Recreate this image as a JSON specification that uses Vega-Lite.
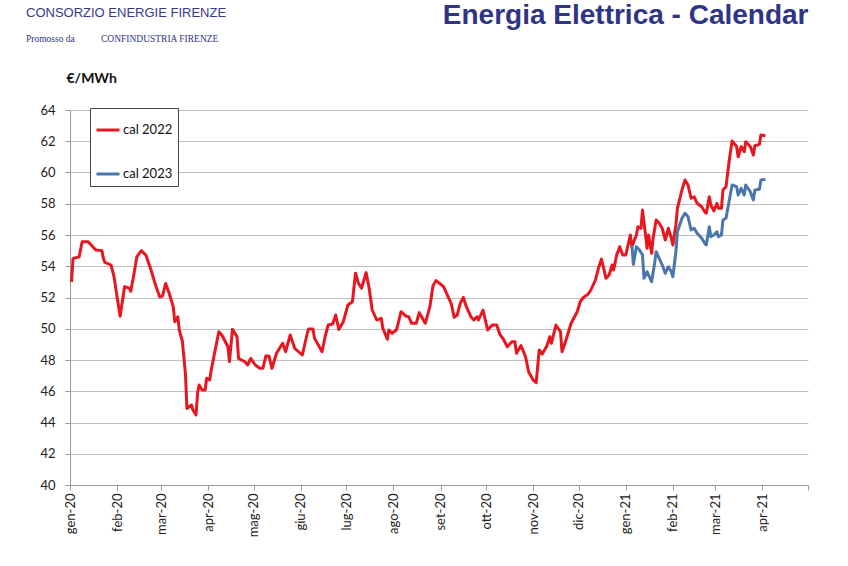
{
  "$schema": "https://vega.github.io/schema/vega-lite/v6.json",
  "width": 738,
  "height": 375,
  "autosize": {"type": "none"},
  "padding": {"left": 70, "top": 110, "right": 40, "bottom": 81},
  "background": "white",
  "title": {
    "text": "CONSORZIO ENERGIE FIRENZE",
    "subtitle": "Promosso da\u00a0\u00a0\u00a0\u00a0\u00a0\u00a0\u00a0\u00a0\u00a0\u00a0\u00a0CONFINDUSTRIA FIRENZE",
    "anchor": "start",
    "frame": "group",
    "orient": "top",
    "dx": -44,
    "dy": 42.5,
    "offset": 0,
    "font": "Liberation Sans",
    "fontSize": 13,
    "fontWeight": "normal",
    "color": "#343A8A",
    "subtitleFont": "Liberation Serif",
    "subtitleFontSize": 9.5,
    "subtitleColor": "#2E3486",
    "subtitlePadding": 14
  },
  "data": {
    "values": [
      {"date": "2020-01-02", "serie": "cal 2022", "value": 53.0},
      {"date": "2020-01-03", "serie": "cal 2022", "value": 54.5},
      {"date": "2020-01-07", "serie": "cal 2022", "value": 54.6},
      {"date": "2020-01-09", "serie": "cal 2022", "value": 55.57},
      {"date": "2020-01-13", "serie": "cal 2022", "value": 55.57},
      {"date": "2020-01-16", "serie": "cal 2022", "value": 55.25},
      {"date": "2020-01-18", "serie": "cal 2022", "value": 55.04},
      {"date": "2020-01-22", "serie": "cal 2022", "value": 55.0},
      {"date": "2020-01-23", "serie": "cal 2022", "value": 54.5},
      {"date": "2020-01-24", "serie": "cal 2022", "value": 54.25},
      {"date": "2020-01-28", "serie": "cal 2022", "value": 54.08},
      {"date": "2020-01-30", "serie": "cal 2022", "value": 53.33},
      {"date": "2020-02-01", "serie": "cal 2022", "value": 52.05},
      {"date": "2020-02-03", "serie": "cal 2022", "value": 50.8},
      {"date": "2020-02-06", "serie": "cal 2022", "value": 52.7},
      {"date": "2020-02-09", "serie": "cal 2022", "value": 52.6},
      {"date": "2020-02-10", "serie": "cal 2022", "value": 52.4},
      {"date": "2020-02-12", "serie": "cal 2022", "value": 53.44},
      {"date": "2020-02-14", "serie": "cal 2022", "value": 54.6},
      {"date": "2020-02-17", "serie": "cal 2022", "value": 55.0},
      {"date": "2020-02-20", "serie": "cal 2022", "value": 54.7},
      {"date": "2020-02-23", "serie": "cal 2022", "value": 53.87},
      {"date": "2020-02-26", "serie": "cal 2022", "value": 52.9},
      {"date": "2020-02-29", "serie": "cal 2022", "value": 52.05},
      {"date": "2020-03-02", "serie": "cal 2022", "value": 52.1},
      {"date": "2020-03-04", "serie": "cal 2022", "value": 52.9},
      {"date": "2020-03-06", "serie": "cal 2022", "value": 52.37},
      {"date": "2020-03-09", "serie": "cal 2022", "value": 51.4},
      {"date": "2020-03-10", "serie": "cal 2022", "value": 50.45},
      {"date": "2020-03-12", "serie": "cal 2022", "value": 50.77},
      {"date": "2020-03-13", "serie": "cal 2022", "value": 49.9},
      {"date": "2020-03-15", "serie": "cal 2022", "value": 49.2},
      {"date": "2020-03-17", "serie": "cal 2022", "value": 47.15},
      {"date": "2020-03-18", "serie": "cal 2022", "value": 44.9},
      {"date": "2020-03-21", "serie": "cal 2022", "value": 45.12},
      {"date": "2020-03-22", "serie": "cal 2022", "value": 44.8},
      {"date": "2020-03-24", "serie": "cal 2022", "value": 44.48},
      {"date": "2020-03-25", "serie": "cal 2022", "value": 45.87},
      {"date": "2020-03-26", "serie": "cal 2022", "value": 46.4},
      {"date": "2020-03-28", "serie": "cal 2022", "value": 46.08},
      {"date": "2020-03-30", "serie": "cal 2022", "value": 46.08},
      {"date": "2020-03-31", "serie": "cal 2022", "value": 46.83},
      {"date": "2020-04-02", "serie": "cal 2022", "value": 46.72},
      {"date": "2020-04-03", "serie": "cal 2022", "value": 47.36},
      {"date": "2020-04-08", "serie": "cal 2022", "value": 49.81},
      {"date": "2020-04-10", "serie": "cal 2022", "value": 49.6},
      {"date": "2020-04-14", "serie": "cal 2022", "value": 48.85},
      {"date": "2020-04-15", "serie": "cal 2022", "value": 47.9},
      {"date": "2020-04-17", "serie": "cal 2022", "value": 49.96},
      {"date": "2020-04-20", "serie": "cal 2022", "value": 49.49},
      {"date": "2020-04-21", "serie": "cal 2022", "value": 48.1},
      {"date": "2020-04-23", "serie": "cal 2022", "value": 48.0},
      {"date": "2020-04-25", "serie": "cal 2022", "value": 47.9},
      {"date": "2020-04-27", "serie": "cal 2022", "value": 47.68},
      {"date": "2020-04-29", "serie": "cal 2022", "value": 48.1},
      {"date": "2020-05-02", "serie": "cal 2022", "value": 47.68},
      {"date": "2020-05-05", "serie": "cal 2022", "value": 47.47},
      {"date": "2020-05-07", "serie": "cal 2022", "value": 47.47},
      {"date": "2020-05-09", "serie": "cal 2022", "value": 48.26},
      {"date": "2020-05-11", "serie": "cal 2022", "value": 48.26},
      {"date": "2020-05-13", "serie": "cal 2022", "value": 47.47},
      {"date": "2020-05-16", "serie": "cal 2022", "value": 48.43},
      {"date": "2020-05-20", "serie": "cal 2022", "value": 49.07},
      {"date": "2020-05-22", "serie": "cal 2022", "value": 48.53},
      {"date": "2020-05-25", "serie": "cal 2022", "value": 49.6},
      {"date": "2020-05-28", "serie": "cal 2022", "value": 48.75},
      {"date": "2020-06-02", "serie": "cal 2022", "value": 48.32},
      {"date": "2020-06-05", "serie": "cal 2022", "value": 49.6},
      {"date": "2020-06-06", "serie": "cal 2022", "value": 49.98},
      {"date": "2020-06-09", "serie": "cal 2022", "value": 49.98},
      {"date": "2020-06-10", "serie": "cal 2022", "value": 49.4},
      {"date": "2020-06-15", "serie": "cal 2022", "value": 48.53},
      {"date": "2020-06-17", "serie": "cal 2022", "value": 49.49},
      {"date": "2020-06-19", "serie": "cal 2022", "value": 50.24},
      {"date": "2020-06-22", "serie": "cal 2022", "value": 50.3},
      {"date": "2020-06-24", "serie": "cal 2022", "value": 50.88},
      {"date": "2020-06-26", "serie": "cal 2022", "value": 49.95},
      {"date": "2020-06-29", "serie": "cal 2022", "value": 50.45},
      {"date": "2020-07-02", "serie": "cal 2022", "value": 51.52},
      {"date": "2020-07-05", "serie": "cal 2022", "value": 51.73},
      {"date": "2020-07-07", "serie": "cal 2022", "value": 53.55},
      {"date": "2020-07-09", "serie": "cal 2022", "value": 52.9},
      {"date": "2020-07-11", "serie": "cal 2022", "value": 52.59},
      {"date": "2020-07-14", "serie": "cal 2022", "value": 53.59},
      {"date": "2020-07-16", "serie": "cal 2022", "value": 52.59},
      {"date": "2020-07-18", "serie": "cal 2022", "value": 51.2},
      {"date": "2020-07-21", "serie": "cal 2022", "value": 50.56},
      {"date": "2020-07-24", "serie": "cal 2022", "value": 50.67},
      {"date": "2020-07-25", "serie": "cal 2022", "value": 50.03},
      {"date": "2020-07-28", "serie": "cal 2022", "value": 49.33},
      {"date": "2020-07-29", "serie": "cal 2022", "value": 49.92},
      {"date": "2020-07-31", "serie": "cal 2022", "value": 49.71},
      {"date": "2020-08-03", "serie": "cal 2022", "value": 49.92},
      {"date": "2020-08-06", "serie": "cal 2022", "value": 51.09},
      {"date": "2020-08-09", "serie": "cal 2022", "value": 50.82},
      {"date": "2020-08-11", "serie": "cal 2022", "value": 50.77},
      {"date": "2020-08-13", "serie": "cal 2022", "value": 50.35},
      {"date": "2020-08-16", "serie": "cal 2022", "value": 50.35},
      {"date": "2020-08-18", "serie": "cal 2022", "value": 51.03},
      {"date": "2020-08-22", "serie": "cal 2022", "value": 50.35},
      {"date": "2020-08-25", "serie": "cal 2022", "value": 51.41},
      {"date": "2020-08-27", "serie": "cal 2022", "value": 52.74},
      {"date": "2020-08-29", "serie": "cal 2022", "value": 53.08},
      {"date": "2020-09-01", "serie": "cal 2022", "value": 52.86},
      {"date": "2020-09-03", "serie": "cal 2022", "value": 52.69},
      {"date": "2020-09-05", "serie": "cal 2022", "value": 52.27},
      {"date": "2020-09-08", "serie": "cal 2022", "value": 51.63},
      {"date": "2020-09-10", "serie": "cal 2022", "value": 50.73},
      {"date": "2020-09-12", "serie": "cal 2022", "value": 50.88},
      {"date": "2020-09-14", "serie": "cal 2022", "value": 51.63},
      {"date": "2020-09-16", "serie": "cal 2022", "value": 52.01},
      {"date": "2020-09-18", "serie": "cal 2022", "value": 51.41},
      {"date": "2020-09-21", "serie": "cal 2022", "value": 50.77},
      {"date": "2020-09-23", "serie": "cal 2022", "value": 50.56},
      {"date": "2020-09-25", "serie": "cal 2022", "value": 50.77},
      {"date": "2020-09-26", "serie": "cal 2022", "value": 50.56},
      {"date": "2020-09-29", "serie": "cal 2022", "value": 51.2},
      {"date": "2020-10-02", "serie": "cal 2022", "value": 49.92},
      {"date": "2020-10-05", "serie": "cal 2022", "value": 50.24},
      {"date": "2020-10-08", "serie": "cal 2022", "value": 50.24},
      {"date": "2020-10-10", "serie": "cal 2022", "value": 49.66},
      {"date": "2020-10-12", "serie": "cal 2022", "value": 49.39},
      {"date": "2020-10-15", "serie": "cal 2022", "value": 48.85},
      {"date": "2020-10-18", "serie": "cal 2022", "value": 49.17},
      {"date": "2020-10-20", "serie": "cal 2022", "value": 49.17},
      {"date": "2020-10-21", "serie": "cal 2022", "value": 48.43},
      {"date": "2020-10-24", "serie": "cal 2022", "value": 48.92},
      {"date": "2020-10-27", "serie": "cal 2022", "value": 48.21},
      {"date": "2020-10-29", "serie": "cal 2022", "value": 47.25},
      {"date": "2020-11-01", "serie": "cal 2022", "value": 46.72},
      {"date": "2020-11-03", "serie": "cal 2022", "value": 46.55},
      {"date": "2020-11-05", "serie": "cal 2022", "value": 48.64},
      {"date": "2020-11-07", "serie": "cal 2022", "value": 48.38},
      {"date": "2020-11-10", "serie": "cal 2022", "value": 48.9},
      {"date": "2020-11-12", "serie": "cal 2022", "value": 49.49},
      {"date": "2020-11-13", "serie": "cal 2022", "value": 49.07},
      {"date": "2020-11-16", "serie": "cal 2022", "value": 50.24},
      {"date": "2020-11-19", "serie": "cal 2022", "value": 49.81},
      {"date": "2020-11-20", "serie": "cal 2022", "value": 48.53},
      {"date": "2020-11-23", "serie": "cal 2022", "value": 49.39},
      {"date": "2020-11-26", "serie": "cal 2022", "value": 50.35},
      {"date": "2020-11-30", "serie": "cal 2022", "value": 51.09},
      {"date": "2020-12-02", "serie": "cal 2022", "value": 51.73},
      {"date": "2020-12-04", "serie": "cal 2022", "value": 52.0},
      {"date": "2020-12-07", "serie": "cal 2022", "value": 52.2},
      {"date": "2020-12-09", "serie": "cal 2022", "value": 52.48},
      {"date": "2020-12-12", "serie": "cal 2022", "value": 53.12},
      {"date": "2020-12-14", "serie": "cal 2022", "value": 53.87},
      {"date": "2020-12-16", "serie": "cal 2022", "value": 54.46},
      {"date": "2020-12-19", "serie": "cal 2022", "value": 53.23},
      {"date": "2020-12-21", "serie": "cal 2022", "value": 53.44},
      {"date": "2020-12-23", "serie": "cal 2022", "value": 54.08},
      {"date": "2020-12-24", "serie": "cal 2022", "value": 53.76},
      {"date": "2020-12-26", "serie": "cal 2022", "value": 54.72},
      {"date": "2020-12-28", "serie": "cal 2022", "value": 55.25},
      {"date": "2020-12-30", "serie": "cal 2022", "value": 54.72},
      {"date": "2021-01-01", "serie": "cal 2022", "value": 54.72},
      {"date": "2021-01-04", "serie": "cal 2022", "value": 56.0},
      {"date": "2021-01-05", "serie": "cal 2022", "value": 55.25},
      {"date": "2021-01-08", "serie": "cal 2022", "value": 56.0},
      {"date": "2021-01-09", "serie": "cal 2022", "value": 56.53},
      {"date": "2021-01-11", "serie": "cal 2022", "value": 56.43},
      {"date": "2021-01-12", "serie": "cal 2022", "value": 57.6},
      {"date": "2021-01-14", "serie": "cal 2022", "value": 56.0},
      {"date": "2021-01-15", "serie": "cal 2022", "value": 55.15},
      {"date": "2021-01-16", "serie": "cal 2022", "value": 56.0},
      {"date": "2021-01-18", "serie": "cal 2022", "value": 54.83},
      {"date": "2021-01-19", "serie": "cal 2022", "value": 55.79},
      {"date": "2021-01-21", "serie": "cal 2022", "value": 56.96},
      {"date": "2021-01-23", "serie": "cal 2022", "value": 56.75},
      {"date": "2021-01-25", "serie": "cal 2022", "value": 56.43},
      {"date": "2021-01-27", "serie": "cal 2022", "value": 55.68},
      {"date": "2021-01-29", "serie": "cal 2022", "value": 56.43},
      {"date": "2021-01-31", "serie": "cal 2022", "value": 55.79},
      {"date": "2021-02-01", "serie": "cal 2022", "value": 55.36},
      {"date": "2021-02-03", "serie": "cal 2022", "value": 56.64},
      {"date": "2021-02-04", "serie": "cal 2022", "value": 57.71},
      {"date": "2021-02-07", "serie": "cal 2022", "value": 58.88},
      {"date": "2021-02-09", "serie": "cal 2022", "value": 59.52},
      {"date": "2021-02-11", "serie": "cal 2022", "value": 59.2},
      {"date": "2021-02-13", "serie": "cal 2022", "value": 58.35},
      {"date": "2021-02-15", "serie": "cal 2022", "value": 58.45},
      {"date": "2021-02-17", "serie": "cal 2022", "value": 58.03},
      {"date": "2021-02-20", "serie": "cal 2022", "value": 57.81},
      {"date": "2021-02-22", "serie": "cal 2022", "value": 57.49},
      {"date": "2021-02-23", "serie": "cal 2022", "value": 57.39},
      {"date": "2021-02-25", "serie": "cal 2022", "value": 58.45},
      {"date": "2021-02-26", "serie": "cal 2022", "value": 57.92},
      {"date": "2021-02-28", "serie": "cal 2022", "value": 57.54},
      {"date": "2021-03-02", "serie": "cal 2022", "value": 58.03},
      {"date": "2021-03-03", "serie": "cal 2022", "value": 57.71},
      {"date": "2021-03-05", "serie": "cal 2022", "value": 57.71},
      {"date": "2021-03-06", "serie": "cal 2022", "value": 58.88},
      {"date": "2021-03-08", "serie": "cal 2022", "value": 59.09},
      {"date": "2021-03-10", "serie": "cal 2022", "value": 60.69},
      {"date": "2021-03-12", "serie": "cal 2022", "value": 62.02},
      {"date": "2021-03-15", "serie": "cal 2022", "value": 61.66},
      {"date": "2021-03-16", "serie": "cal 2022", "value": 61.01},
      {"date": "2021-03-18", "serie": "cal 2022", "value": 61.66},
      {"date": "2021-03-20", "serie": "cal 2022", "value": 61.33},
      {"date": "2021-03-21", "serie": "cal 2022", "value": 61.97},
      {"date": "2021-03-24", "serie": "cal 2022", "value": 61.66},
      {"date": "2021-03-26", "serie": "cal 2022", "value": 61.12},
      {"date": "2021-03-27", "serie": "cal 2022", "value": 61.71},
      {"date": "2021-03-30", "serie": "cal 2022", "value": 61.8},
      {"date": "2021-03-31", "serie": "cal 2022", "value": 62.4},
      {"date": "2021-04-03", "serie": "cal 2022", "value": 62.36},
      {"date": "2021-01-05", "serie": "cal 2023", "value": 55.36},
      {"date": "2021-01-06", "serie": "cal 2023", "value": 54.12},
      {"date": "2021-01-08", "serie": "cal 2023", "value": 55.25},
      {"date": "2021-01-10", "serie": "cal 2023", "value": 55.04},
      {"date": "2021-01-12", "serie": "cal 2023", "value": 54.72},
      {"date": "2021-01-13", "serie": "cal 2023", "value": 53.23},
      {"date": "2021-01-15", "serie": "cal 2023", "value": 53.65},
      {"date": "2021-01-18", "serie": "cal 2023", "value": 53.01},
      {"date": "2021-01-20", "serie": "cal 2023", "value": 54.19},
      {"date": "2021-01-21", "serie": "cal 2023", "value": 54.93},
      {"date": "2021-01-23", "serie": "cal 2023", "value": 54.51},
      {"date": "2021-01-25", "serie": "cal 2023", "value": 54.08},
      {"date": "2021-01-27", "serie": "cal 2023", "value": 53.55},
      {"date": "2021-01-29", "serie": "cal 2023", "value": 53.97},
      {"date": "2021-01-31", "serie": "cal 2023", "value": 53.65},
      {"date": "2021-02-01", "serie": "cal 2023", "value": 53.33},
      {"date": "2021-02-03", "serie": "cal 2023", "value": 54.93},
      {"date": "2021-02-04", "serie": "cal 2023", "value": 56.21},
      {"date": "2021-02-07", "serie": "cal 2023", "value": 57.07},
      {"date": "2021-02-09", "serie": "cal 2023", "value": 57.39},
      {"date": "2021-02-11", "serie": "cal 2023", "value": 57.17},
      {"date": "2021-02-13", "serie": "cal 2023", "value": 56.32},
      {"date": "2021-02-15", "serie": "cal 2023", "value": 56.43},
      {"date": "2021-02-17", "serie": "cal 2023", "value": 56.11},
      {"date": "2021-02-20", "serie": "cal 2023", "value": 55.79},
      {"date": "2021-02-22", "serie": "cal 2023", "value": 55.47},
      {"date": "2021-02-23", "serie": "cal 2023", "value": 55.36},
      {"date": "2021-02-25", "serie": "cal 2023", "value": 56.53},
      {"date": "2021-02-26", "serie": "cal 2023", "value": 55.89},
      {"date": "2021-02-28", "serie": "cal 2023", "value": 56.0},
      {"date": "2021-03-02", "serie": "cal 2023", "value": 56.21},
      {"date": "2021-03-03", "serie": "cal 2023", "value": 55.89},
      {"date": "2021-03-05", "serie": "cal 2023", "value": 56.0},
      {"date": "2021-03-06", "serie": "cal 2023", "value": 56.96},
      {"date": "2021-03-08", "serie": "cal 2023", "value": 57.07},
      {"date": "2021-03-10", "serie": "cal 2023", "value": 58.13},
      {"date": "2021-03-12", "serie": "cal 2023", "value": 59.2},
      {"date": "2021-03-15", "serie": "cal 2023", "value": 59.09},
      {"date": "2021-03-16", "serie": "cal 2023", "value": 58.56},
      {"date": "2021-03-18", "serie": "cal 2023", "value": 58.99},
      {"date": "2021-03-20", "serie": "cal 2023", "value": 58.56},
      {"date": "2021-03-21", "serie": "cal 2023", "value": 59.2},
      {"date": "2021-03-24", "serie": "cal 2023", "value": 58.77},
      {"date": "2021-03-26", "serie": "cal 2023", "value": 58.24},
      {"date": "2021-03-27", "serie": "cal 2023", "value": 58.88},
      {"date": "2021-03-30", "serie": "cal 2023", "value": 58.93},
      {"date": "2021-03-31", "serie": "cal 2023", "value": 59.52},
      {"date": "2021-04-03", "serie": "cal 2023", "value": 59.56}
    ]
  },
  "mark": {"type": "line", "strokeWidth": 3, "strokeJoin": "round"},
  "encoding": {
    "x": {
      "field": "date",
      "type": "temporal",
      "scale": {
        "type": "utc",
        "domain": [
          {"year": 2020, "month": 1, "date": 1, "utc": true},
          {"year": 2021, "month": 5, "date": 1, "utc": true}
        ]
      },
      "axis": {
        "values": [
          {"year": 2020, "month": 1, "date": 1, "utc": true},
          {"year": 2020, "month": 2, "date": 1, "utc": true},
          {"year": 2020, "month": 3, "date": 1, "utc": true},
          {"year": 2020, "month": 4, "date": 1, "utc": true},
          {"year": 2020, "month": 5, "date": 1, "utc": true},
          {"year": 2020, "month": 6, "date": 1, "utc": true},
          {"year": 2020, "month": 7, "date": 1, "utc": true},
          {"year": 2020, "month": 8, "date": 1, "utc": true},
          {"year": 2020, "month": 9, "date": 1, "utc": true},
          {"year": 2020, "month": 10, "date": 1, "utc": true},
          {"year": 2020, "month": 11, "date": 1, "utc": true},
          {"year": 2020, "month": 12, "date": 1, "utc": true},
          {"year": 2021, "month": 1, "date": 1, "utc": true},
          {"year": 2021, "month": 2, "date": 1, "utc": true},
          {"year": 2021, "month": 3, "date": 1, "utc": true},
          {"year": 2021, "month": 4, "date": 1, "utc": true},
          {"year": 2021, "month": 5, "date": 1, "utc": true}
        ],
        "labelExpr": "utcyear(datum.value) == 2021 && utcmonth(datum.value) == 4 ? '' : ['gen','feb','mar','apr','mag','giu','lug','ago','set','ott','nov','dic'][utcmonth(datum.value)] + '-' + (utcyear(datum.value) % 100)",
        "labelAngle": -90,
        "labelFont": "Lato",
        "labelFontSize": 13,
        "labelColor": "#222222",
        "labelPadding": 3,
        "labelOverlap": false,
        "labelFlush": false,
        "grid": false,
        "domainColor": "#9A9A9A",
        "tickColor": "#9A9A9A",
        "tickSize": 5,
        "title": "Energia Elettrica - Calendar",
        "titleFont": "Liberation Sans",
        "titleFontSize": 28,
        "titleFontWeight": "bold",
        "titleColor": "#2E3486",
        "titleAngle": 0,
        "titleAlign": "right",
        "titleBaseline": "alphabetic",
        "titleX": 738,
        "titleY": -462
      }
    },
    "y": {
      "field": "value",
      "type": "quantitative",
      "scale": {"domain": [40, 64], "zero": false, "nice": false},
      "axis": {
        "values": [40, 42, 44, 46, 48, 50, 52, 54, 56, 58, 60, 62, 64],
        "grid": true,
        "gridColor": "#BFBFBF",
        "gridWidth": 1,
        "domainColor": "#9A9A9A",
        "tickColor": "#9A9A9A",
        "tickSize": 5,
        "labelFont": "Lato",
        "labelFontSize": 13,
        "labelColor": "#222222",
        "labelPadding": 10,
        "title": "€/MWh",
        "titleFont": "Lato",
        "titleFontSize": 14,
        "titleFontWeight": "bold",
        "titleColor": "#111111",
        "titleAngle": 0,
        "titleAlign": "left",
        "titleBaseline": "middle",
        "titleX": -4,
        "titleY": -32
      }
    },
    "color": {
      "field": "serie",
      "type": "nominal",
      "scale": {"domain": ["cal 2022", "cal 2023"], "range": ["#E8171F", "#4A76AC"]},
      "legend": {
        "orient": "none",
        "legendX": 20,
        "legendY": -2,
        "direction": "vertical",
        "title": " ",
        "titleFontSize": 4,
        "titlePadding": 0,
        "padding": 5,
        "rowPadding": 24,
        "symbolType": "stroke",
        "symbolSize": 529,
        "symbolStrokeWidth": 3,
        "labelFont": "Lato",
        "labelFontSize": 13,
        "labelColor": "#111111",
        "labelOffset": 2,
        "strokeColor": "#444444",
        "fillColor": "white"
      }
    }
  },
  "config": {"view": {"stroke": null}}
}
